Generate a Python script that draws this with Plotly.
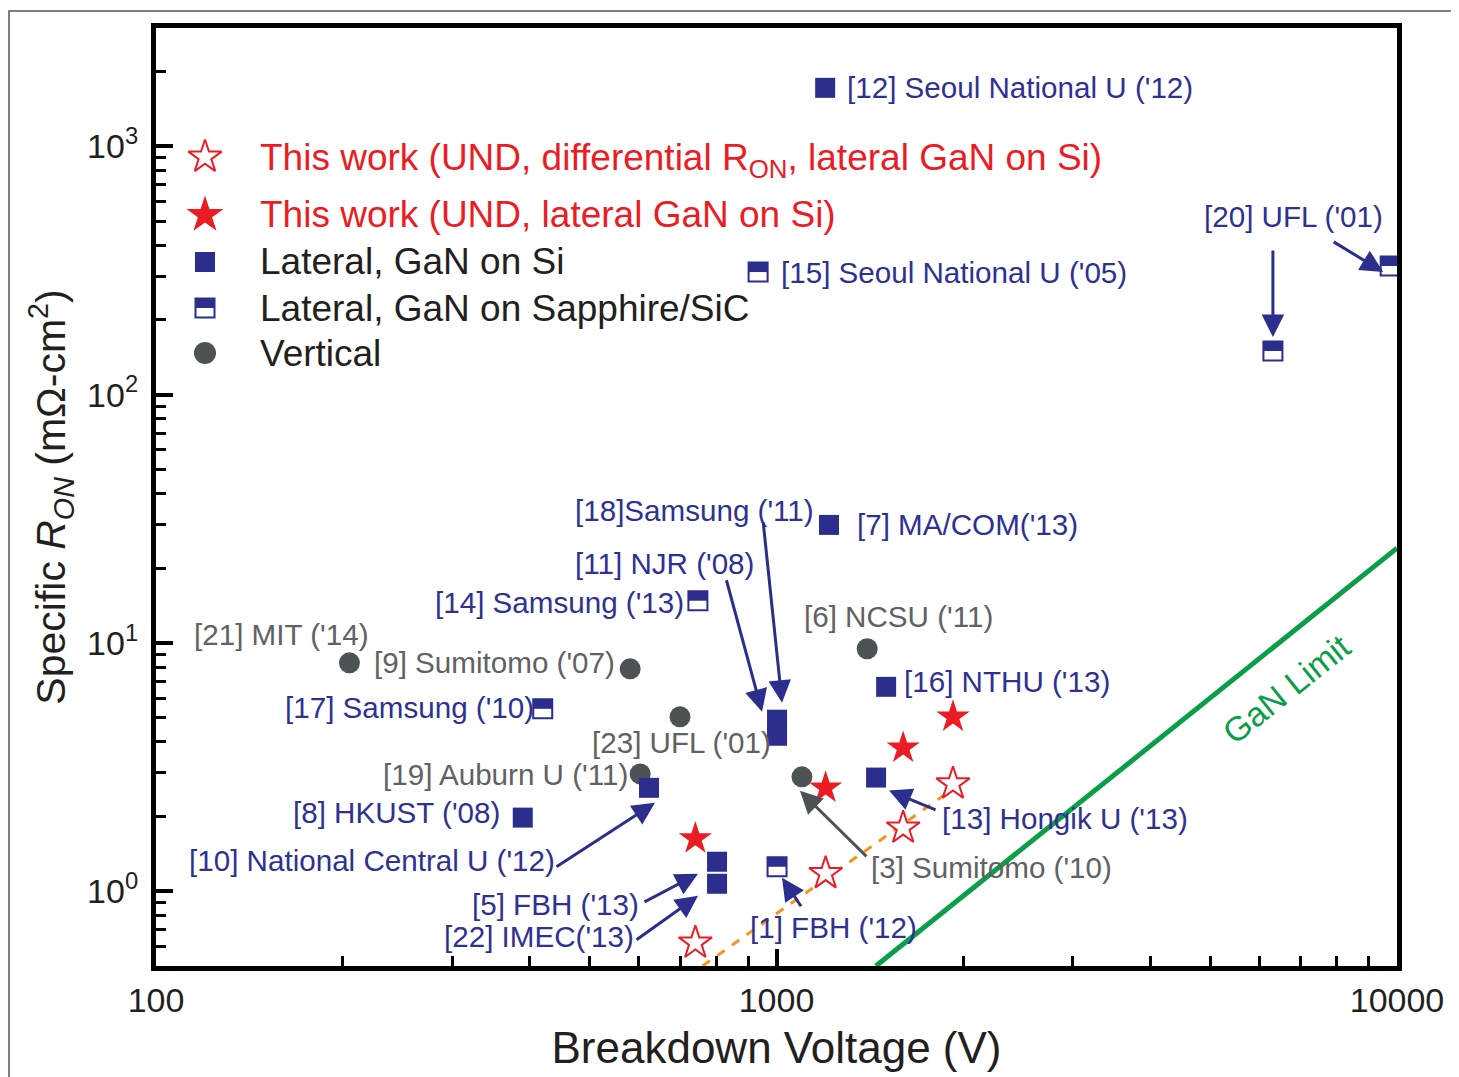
import numpy as np
import plotly.graph_objects as go

# ---------------- data ----------------
# This work (stars)
this_work_V = [740, 1200, 1600, 1925]
this_work_diff_R = [0.62, 1.18, 1.80, 2.71]      # differential R_ON (open stars)
this_work_R = [1.63, 2.61, 3.78, 5.04]           # filled stars

# Lateral, GaN on Si (filled squares)
lat_si_labels = ["[12] Seoul National U ('12)", "[7] MA/COM('13)", "[16] NTHU ('13)",
                 "[18]Samsung ('11)", "[11] NJR ('08)", "[10] National Central U ('12)",
                 "[8] HKUST ('08)", "[13] Hongik U ('13)", "[5] FBH ('13)", "[22] IMEC('13)"]
lat_si_V = [1198, 1215, 1502, 1002, 1002, 623, 390, 1447, 802, 802]
lat_si_R = [1722, 29.9, 6.66, 4.91, 4.23, 2.61, 1.98, 2.87, 1.315, 1.072]

# Lateral, GaN on Sapphire/SiC (half-filled squares)
lat_sap_labels = ["[15] Seoul National U ('05)", "", "[20] UFL ('01)",
                  "[14] Samsung ('13)", "[17] Samsung ('10)", "[1] FBH ('12)"]
lat_sap_V = [934, 6310, 9750, 747, 420, 1002]
lat_sap_R = [312, 150, 330, 14.8, 5.43, 1.255]

# Vertical (circles)
vert_labels = ["[21] MIT ('14)", "[9] Sumitomo ('07)", "[23] UFL ('01)",
               "[19] Auburn U ('11)", "[6] NCSU ('11)", "[3] Sumitomo ('10)"]
vert_V = [205, 581, 699, 603, 1400, 1099]
vert_R = [8.32, 7.87, 5.04, 2.97, 9.48, 2.89]

# Lines
gan_limit_V = [1446, 10000]
gan_limit_R = [0.5, 24.1]
trend_V = [760, 1930]
trend_R = [0.5, 2.6]

legend_labels = ["This work (UND, differential R<sub>ON</sub>, lateral GaN on Si)",
                 "This work (UND, lateral GaN on Si)",
                 "Lateral, GaN on Si",
                 "Lateral, GaN on Sapphire/SiC",
                 "Vertical"]

x_tick_vals = [100, 1000, 10000]
x_tick_text = ["100", "1000", "10000"]
y_tick_vals = [1, 10, 100, 1000]
y_tick_text = ["10<sup>0</sup>", "10<sup>1</sup>", "10<sup>2</sup>", "10<sup>3</sup>"]

# ---------------- layout constants ----------------
OFF = 8                       # page body margin
W, H = 1459 - OFF, 1077 - OFF
ML, MR, MT, MB = 156 - OFF, 62, 28 - OFF, 111
PW, PH = W - ML - MR, H - MT - MB
X_RANGE = [2.0, 4.0]
Y_RANGE = [np.log10(0.5), np.log10(3000)]
PPD_Y = PH / (Y_RANGE[1] - Y_RANGE[0])
PPD_X = PW / (X_RANGE[1] - X_RANGE[0])


def page_x(px):
    return (px - OFF - ML) / PW


def page_y(py):
    return 1 - (py - OFF - MT) / PH


FONT = "Liberation Sans, Arial, sans-serif"
BLUE = "#2b2e8c"
LBLUE = "#2e3192"
RED = "#ec1c24"
GRAY = "#4d5354"
LGRAY = "#5f6163"
GREEN = "#0a9e48"
ORANGE = "#f7941d"
BLACK = "#231f20"

STAR = 25
SQ = 20
HSQ = 19
CIRC = 21
LAB = 29.6

fig = go.Figure()

# GaN limit & trend line
fig.add_trace(go.Scatter(x=gan_limit_V, y=gan_limit_R, mode="lines",
                         line=dict(color=GREEN, width=5), showlegend=False, hoverinfo="skip"))
fig.add_trace(go.Scatter(x=trend_V, y=trend_R, mode="lines",
                         line=dict(color=ORANGE, width=3, dash="dash"), showlegend=False, hoverinfo="skip"))

# vertical
fig.add_trace(go.Scatter(x=vert_V, y=vert_R, mode="markers",
                         marker=dict(symbol="circle", size=CIRC, color=GRAY, line=dict(width=0)),
                         showlegend=False))
# lateral GaN on Si
fig.add_trace(go.Scatter(x=lat_si_V, y=lat_si_R, mode="markers",
                         marker=dict(symbol="square", size=SQ, color=BLUE, line=dict(width=0)),
                         showlegend=False))


def half_square(xs, ys, size, up, xaxis="x", yaxis="y", log=True):
    fig.add_trace(go.Scatter(x=xs, y=ys, mode="markers", xaxis=xaxis, yaxis=yaxis,
                             marker=dict(symbol="square", size=size, color="white",
                                         line=dict(color=BLUE, width=2)),
                             showlegend=False, hoverinfo="skip"))
    ys_top = [v * up for v in ys] if log else [v + up for v in ys]
    fig.add_trace(go.Scatter(x=xs, y=ys_top, mode="markers", xaxis=xaxis, yaxis=yaxis,
                             marker=dict(symbol="line-ew", size=size / 1.4, color=BLUE,
                                         line=dict(color=BLUE, width=size / 2)),
                             showlegend=False, hoverinfo="skip"))


half_square(lat_sap_V, lat_sap_R, HSQ, 10 ** ((HSQ / 4) / PPD_Y))

# this work
fig.add_trace(go.Scatter(x=this_work_V, y=this_work_R, mode="markers",
                         marker=dict(symbol="star", size=STAR, color=RED, line=dict(width=0)),
                         showlegend=False))
fig.add_trace(go.Scatter(x=this_work_V, y=this_work_diff_R, mode="markers",
                         marker=dict(symbol="star", size=STAR, color="white",
                                     line=dict(color=RED, width=2)),
                         showlegend=False))

# ---------------- labels ----------------
anns = []


def label(V, R, text, color, xanchor, dx, dy, size=LAB):
    anns.append(dict(x=np.log10(V), y=np.log10(R), xref="x", yref="y", text=text,
                     showarrow=False, xanchor=xanchor, yanchor="middle",
                     xshift=dx, yshift=-dy, font=dict(family=FONT, size=size, color=color)))


si_lab = [("left", 20, 0), ("left", 26, 0), ("left", 16, -5), ("right", 39, -209),
          ("right", -21, -172), ("right", -92, 73), ("right", -21, -5), ("left", 64, 41),
          ("right", -76, 43), ("right", -81, 53)]
for i, (xa, dx, dy) in enumerate(si_lab):
    label(lat_si_V[i], lat_si_R[i], lat_si_labels[i], LBLUE, xa, dx, dy)

sap_lab = [("left", 21, 0), None, ("right", -5, -49), ("right", -12, 2),
           ("right", -7, -1), ("left", -29, 61)]
for i, spec in enumerate(sap_lab):
    if spec is None:
        continue
    xa, dx, dy = spec
    label(lat_sap_V[i], lat_sap_R[i], lat_sap_labels[i], LBLUE, xa, dx, dy)

vert_lab = [("left", -157, -28), ("right", -13, -6), ("left", -90, 26),
            ("right", -10, 1), ("left", -65, -32), ("left", 67, 91)]
for i, (xa, dx, dy) in enumerate(vert_lab):
    label(vert_V[i], vert_R[i], vert_labels[i], LGRAY, xa, dx, dy)


# ---------------- arrows: tip offset from marker (dx, dy), tail relative to tip (ax, ay), px ----------------
def arrow(V, R, color, dx, dy, ax, ay):
    anns.append(dict(x=np.log10(V), y=np.log10(R), xref="x", yref="y", text="",
                     showarrow=True, arrowhead=2, arrowsize=1.5, arrowwidth=3,
                     arrowcolor=color, ax=ax, ay=ay, xshift=dx, yshift=-dy, standoff=0))


arrow(lat_sap_V[1], lat_sap_R[1], BLUE, 0, -14, 0, -88)
arrow(lat_sap_V[2], lat_sap_R[2], BLUE, -7, 6, -51, -31)
arrow(lat_si_V[3], lat_si_R[3], BLUE, 5, -17, -19, -182)
arrow(lat_si_V[4], lat_si_R[4], BLUE, -15, -24, -36, -133)
arrow(lat_si_V[5], lat_si_R[5], BLUE, 6, 15, -100, 65)
arrow(lat_si_V[8], lat_si_R[8], BLUE, -19, 12, -55, 29)
arrow(lat_si_V[9], lat_si_R[9], BLUE, -19, 12, -63, 45)
arrow(lat_sap_V[5], lat_sap_R[5], BLUE, 5, 11, 20, 30)
arrow(lat_si_V[7], lat_si_R[7], BLUE, 13, 13, 48, 20)
arrow(vert_V[5], vert_R[5], GRAY, -2, 14, 68, 67)

# GaN limit label, placed along the line
lx0, lx1 = np.log10(gan_limit_V)
ly0, ly1 = np.log10(gan_limit_R)
slope = (ly1 - ly0) / (lx1 - lx0)
ang = np.degrees(np.arctan(slope * PPD_Y / PPD_X))
gx = np.log10(6030)
gy = ly0 + slope * (gx - lx0)
anns.append(dict(x=gx, y=gy, xref="x", yref="y", text="GaN Limit", showarrow=False,
                 textangle=-ang, xanchor="center", yanchor="middle",
                 xshift=26, yshift=-32, font=dict(family=FONT, size=34, color=GREEN)))

# ---------------- custom legend ----------------
leg_rows_px = [157, 215, 262, 308, 353]
leg_key_x = page_x(205)
leg_txt_x = page_x(258)
leg_y = [page_y(p) for p in leg_rows_px]
leg_colors = [RED, RED, BLACK, BLACK, BLACK]
leg_yshift = [-3, 0, 0, 0, 0]
for i, t in enumerate(legend_labels):
    anns.append(dict(x=leg_txt_x, y=leg_y[i], xref="paper", yref="paper", text=t,
                     showarrow=False, xanchor="left", yanchor="middle", yshift=leg_yshift[i],
                     font=dict(family=FONT, size=37, color=leg_colors[i])))

fig.add_trace(go.Scatter(x=[leg_key_x], y=[leg_y[0]], xaxis="x2", yaxis="y2", mode="markers",
                         marker=dict(symbol="star", size=STAR, color="white", line=dict(color=RED, width=2)),
                         showlegend=False, hoverinfo="skip"))
fig.add_trace(go.Scatter(x=[leg_key_x], y=[leg_y[1]], xaxis="x2", yaxis="y2", mode="markers",
                         marker=dict(symbol="star", size=STAR + 3, color=RED, line=dict(width=0)),
                         showlegend=False, hoverinfo="skip"))
fig.add_trace(go.Scatter(x=[leg_key_x], y=[leg_y[2]], xaxis="x2", yaxis="y2", mode="markers",
                         marker=dict(symbol="square", size=SQ, color=BLUE, line=dict(width=0)),
                         showlegend=False, hoverinfo="skip"))
half_square([leg_key_x], [leg_y[3]], HSQ, (HSQ / 4) / PH, xaxis="x2", yaxis="y2", log=False)
fig.add_trace(go.Scatter(x=[leg_key_x], y=[leg_y[4]], xaxis="x2", yaxis="y2", mode="markers",
                         marker=dict(symbol="circle", size=CIRC + 1, color=GRAY, line=dict(width=0)),
                         showlegend=False, hoverinfo="skip"))

# ---------------- axes ----------------
x_minor = [m * 10 ** d for d in (2, 3) for m in range(2, 10)]
y_minor = [m * 10 ** d for d in (-1, 0, 1, 2, 3) for m in range(2, 10)
           if 0.5 <= m * 10 ** d < 2900]

axis_common = dict(showline=True, linewidth=5, linecolor="black", mirror=True,
                   ticks="inside", ticklen=17, tickwidth=4, tickcolor="black",
                   showgrid=False, zeroline=False,
                   tickfont=dict(family=FONT, size=34, color=BLACK))

fig.update_layout(
    width=W, height=H, autosize=False,
    margin=dict(l=ML, r=MR, t=MT, b=MB),
    paper_bgcolor="white", plot_bgcolor="white",
    showlegend=False,
    xaxis=dict(type="log", range=X_RANGE, tickmode="array", tickvals=x_tick_vals,
               ticktext=x_tick_text,
               minor=dict(tickmode="array", tickvals=x_minor, ticks="inside", ticklen=10,
                          tickwidth=3, tickcolor="black", showgrid=False),
               title=dict(text="Breakdown Voltage (V)", standoff=16,
                          font=dict(family=FONT, size=44, color=BLACK)),
               **axis_common),
    yaxis=dict(type="log", range=Y_RANGE, tickmode="array", tickvals=y_tick_vals,
               ticktext=y_tick_text, ticklabelstandoff=6,
               minor=dict(tickmode="array", tickvals=y_minor, ticks="inside", ticklen=10,
                          tickwidth=3, tickcolor="black", showgrid=False),
               title=dict(text="Specific <i>R</i><sub><i>ON</i></sub> (mΩ-cm<sup>2</sup>)",
                          standoff=10, font=dict(family=FONT, size=41, color=BLACK)),
               **axis_common),
    xaxis2=dict(overlaying="x", range=[0, 1], visible=False, fixedrange=True),
    yaxis2=dict(overlaying="y", range=[0, 1], visible=False, fixedrange=True),
    annotations=anns,
    shapes=[dict(type="rect", xref="paper", yref="paper",
                 x0=page_x(9), x1=page_x(1470),
                 y0=page_y(1090), y1=page_y(11),
                 line=dict(color="#555555", width=1.5), fillcolor="rgba(0,0,0,0)", layer="below")],
)

fig.write_html("out.html")
